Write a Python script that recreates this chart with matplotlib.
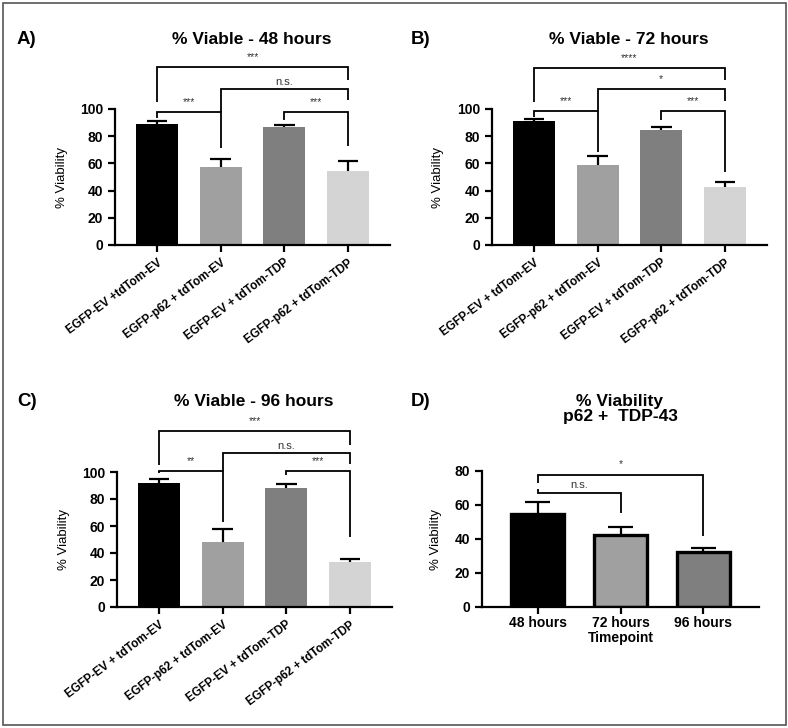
import matplotlib
matplotlib.use("Agg")
import matplotlib.pyplot as plt
from matplotlib.patches import Rectangle

plt.rcParams['font.family'] = ['Liberation Sans', 'DejaVu Sans']

# ---------------- data ----------------
groups_A = ["EGFP-EV +tdTom-EV", "EGFP-p62 + tdTom-EV", "EGFP-EV + tdTom-TDP", "EGFP-p62 + tdTom-TDP"]
groups_BC = ["EGFP-EV + tdTom-EV", "EGFP-p62 + tdTom-EV", "EGFP-EV + tdTom-TDP", "EGFP-p62 + tdTom-TDP"]
mean_48 = [89, 57, 87, 54.5]
sd_48 = [2, 6, 1.5, 7.5]
mean_72 = [91.5, 58.5, 84.5, 42.5]
sd_72 = [1, 7, 2, 4]
mean_96 = [92, 48.5, 88, 33]
sd_96 = [2.5, 9, 3, 2.5]
timepoints = ["48 hours", "72 hours", "96 hours"]
mean_tdp = [54.5, 42.5, 32.5]
sd_tdp = [7.5, 4.5, 2.5]

colors4 = ["#000000", "#a0a0a0", "#7f7f7f", "#d4d4d4"]
colors3 = ["#000000", "#a0a0a0", "#7f7f7f"]

# brackets: (i, j, y, label, left-leg end, right-leg end)
br_48 = [(0, 3, 131, "***", 105, 121), (1, 3, 115, "n.s.", 98, 106.6),
         (0, 1, 98, "***", 93.4, 71), (2, 3, 98, "***", 92, 73)]
br_72 = [(0, 3, 130, "****", 105, 121), (1, 3, 114.7, "*", 98.5, 106),
         (0, 1, 98.5, "***", 94, 68.5), (2, 3, 98.5, "***", 92, 54)]
br_96 = [(0, 3, 130.6, "***", 105, 120), (1, 3, 114, "n.s.", 101, 106),
         (0, 1, 101, "**", 99.5, 63), (2, 3, 101, "***", 97.5, 52)]
br_tdp = [(0, 2, 77.6, "*", 73, 41.8), (0, 1, 67.2, "n.s.", 69.5, 55.5)]

W, H = 788, 728
fig = plt.figure(figsize=(W / 100, H / 100), dpi=100)

# figure border
fig.patches.append(Rectangle((3 / W, 3 / H), (786 - 3) / W, (725 - 3) / H,
                             transform=fig.transFigure, fill=False,
                             edgecolor="#555555", linewidth=1.2))


def axes_px(l, r, t, b):
    return fig.add_axes([l / W, 1 - b / H, (r - l) / W, (b - t) / H])


def style(ax, ymax, step, ylabx):
    for s in ["top", "right"]:
        ax.spines[s].set_visible(False)
    for s in ["left", "bottom"]:
        ax.spines[s].set_linewidth(1.6)
    ax.set_ylim(0, ymax)
    ax.set_yticks(range(0, ymax + 1, step))
    ax.tick_params(axis="both", direction="out", length=5, width=1.6)
    for lab in ax.get_yticklabels():
        lab.set_fontweight("bold")
        lab.set_fontsize(10)
    ax.set_ylabel("% Viability", fontsize=9.5)
    ax.yaxis.set_label_coords(ylabx, 0.5)


def brackets(ax, brs, lw=1.3):
    for i, j, y, lab, yl, yr in brs:
        ax.plot([i, i, j, j], [yl, y, y, yr], color="black", lw=lw,
                clip_on=False, solid_capstyle="butt", solid_joinstyle="miter")
        fs = 8 if lab == "n.s." else 7.5
        off = 1.5 if lab == "n.s." else 3.5
        ax.text((i + j) / 2, y + off, lab, ha="center", va="bottom",
                fontsize=fs, color="#333333", clip_on=False)


def err_up(ax, x, means, sds, half):
    tops = [m + s for m, s in zip(means, sds)]
    ax.vlines(x, means, tops, color="black", lw=1.6, zorder=3)
    ax.hlines(tops, [xi - half for xi in x], [xi + half for xi in x],
              color="black", lw=1.6, zorder=3)


def bar_panel(ax, names, means, sds, colors, brs, ylabx):
    x = list(range(len(names)))
    ax.bar(x, means, width=0.66, color=colors, zorder=2)
    err_up(ax, x, means, sds, 0.16)
    ax.set_xlim(-0.66, len(names) - 1 + 0.66)
    ax.set_xticks(x)
    ax.set_xticklabels(names, rotation=37, ha="right", va="top",
                       rotation_mode="anchor", fontsize=8.5, fontweight="bold")
    style(ax, 100, 20, ylabx)
    brackets(ax, brs)


axA = axes_px(115, 390, 109, 245)
bar_panel(axA, groups_A, mean_48, sd_48, colors4, br_48, -0.171)
axB = axes_px(492, 767, 109, 245)
bar_panel(axB, groups_BC, mean_72, sd_72, colors4, br_72, -0.175)
axC = axes_px(117, 392, 472, 607)
bar_panel(axC, groups_BC, mean_96, sd_96, colors4, br_96, -0.171)

# panel D
axD = axes_px(482, 759, 471, 607)
xd = list(range(len(timepoints)))
axD.bar(xd, mean_tdp, width=0.64, color=colors3, edgecolor="black", linewidth=2.4, zorder=2)
err_up(axD, xd, mean_tdp, sd_tdp, 0.15)
axD.set_xlim(-0.67, 2.67)
axD.set_xticks(xd)
axD.set_xticklabels(timepoints, fontsize=10, fontweight="bold")
style(axD, 80, 20, -0.144)
axD.tick_params(axis="x", pad=1.5)
axD.set_xlabel("Timepoint", fontsize=10, fontweight="bold", labelpad=1)
brackets(axD, br_tdp)

# titles and panel letters
def ftext(x, y, s, **kw):
    fig.text(x / W, 1 - y / H, s, **kw)

ftext(252, 40, "% Viable - 48 hours", ha="center", va="center", fontsize=12.5, fontweight="bold")
ftext(629, 40, "% Viable - 72 hours", ha="center", va="center", fontsize=12.5, fontweight="bold")
ftext(254, 401, "% Viable - 96 hours", ha="center", va="center", fontsize=12.5, fontweight="bold")
ftext(620, 409, "% Viability\np62 +  TDP-43", ha="center", va="center", fontsize=12.5,
      fontweight="bold", linespacing=1.0)
ftext(17, 40, "A)", ha="left", va="center", fontsize=13.5, fontweight="bold")
ftext(411, 40, "B)", ha="left", va="center", fontsize=13.5, fontweight="bold")
ftext(17, 401, "C)", ha="left", va="center", fontsize=13.5, fontweight="bold")
ftext(411, 401, "D)", ha="left", va="center", fontsize=13.5, fontweight="bold")

fig.savefig("out.png", dpi=100)
